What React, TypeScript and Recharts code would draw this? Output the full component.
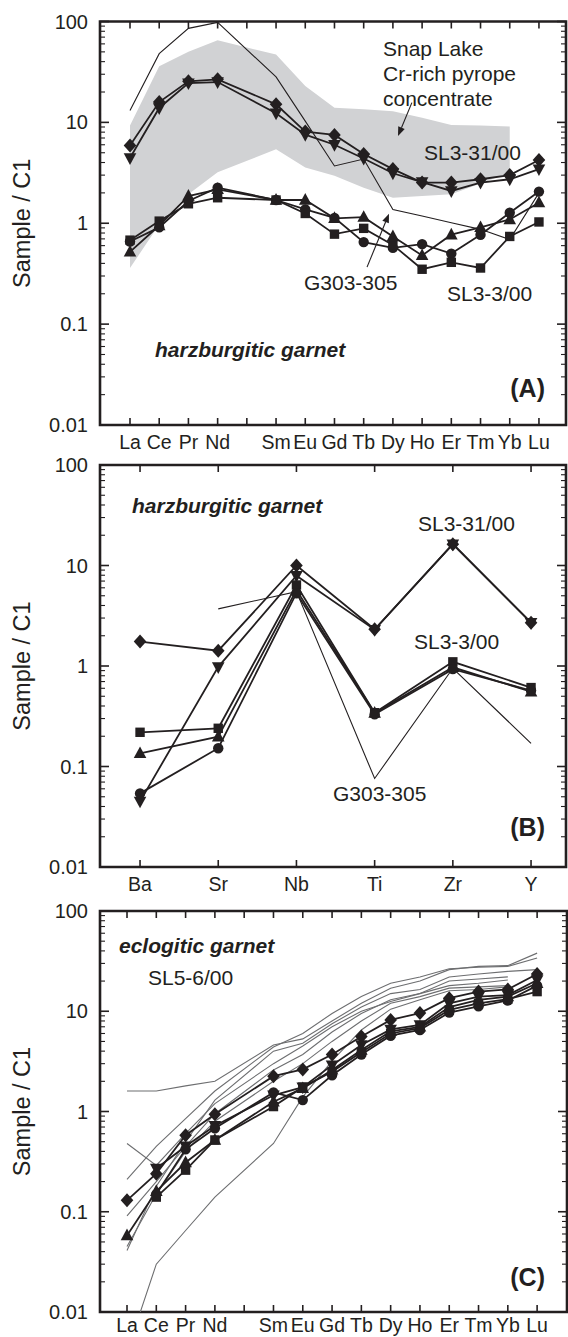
import React from 'react'
import {
  ComposedChart,
  Line,
  Area,
  XAxis,
  YAxis,
  ReferenceArea,
  ReferenceLine,
} from 'recharts'

const INK = '#231f20'
const GREY_LINE = '#6d6e70'
const BAND_FILL = '#d1d2d4'

// x categories
const REE = ['La', 'Ce', 'Pr', 'Nd', '', 'Sm', 'Eu', 'Gd', 'Tb', 'Dy', 'Ho', 'Er', 'Tm', 'Yb', 'Lu']
const TRACE = ['Ba', 'Sr', 'Nb', 'Ti', 'Zr', 'Y']

// y axis (log)
const DECADES = [0.01, 0.1, 1, 10, 100]
const DECADE_LABELS = ['0.01', '0.1', '1', '10', '100']

// (A) harzburgitic garnet, REE (Pm slot left empty)
const aDiamond = [5.9, 15.9, 25.5, 26.7, null, 15.1, 8.1, 7.5, 4.85, 3.44, 2.53, 2.53, 2.73, 3.0, 4.23]
const aInvTri = [4.43, 13.9, 24.5, 25.1, null, 12.3, 7.55, 6.0, 4.38, 3.13, 2.56, 2.09, 2.53, 2.73, 3.44]
const aCircle = [0.66, 0.91, 1.66, 2.25, null, 1.7, 1.37, 1.13, 0.65, 0.57, 0.62, 0.5, 0.77, 1.27, 2.06]
const aSquare = [0.68, 1.05, 1.56, 1.79, null, 1.7, 1.25, 0.78, 0.89, 0.61, 0.35, 0.41, 0.36, 0.74, 1.03]
const aTriangle = [0.52, 0.95, 1.86, 2.17, null, 1.7, 1.7, 1.12, 1.15, 0.74, 0.48, 0.77, 0.91, 1.09, 1.6]
const aG303 = [13.1, 48, 85.5, 98, null, 28.2, 10.3, 3.7, 4.33, 1.37, 1.18, 1.01, 0.87, 0.69, 2.0]
const aBandLow = [0.36, 0.97, 1.94, 3.2, null, 5.4, 3.57, 2.95, 2.25, 1.79, 1.86, 1.94, 2.48, 3.18, null]
const aBandHigh = [9.3, 36, 50, 65, null, 47, 23, 14, 13.5, 12.9, 11.1, 9.4, 9.3, 9.1, null]

// (B) harzburgitic garnet, trace elements
const bDiamond = [1.75, 1.42, 10, 2.32, 16.3, 2.7]
const bInvTri = [0.045, 0.98, 7.9, 2.3, 16.3, 2.7]
const bSquare = [0.219, 0.24, 6.4, 0.343, 1.1, 0.61]
const bTriangle = [0.135, 0.198, 5.7, 0.34, 0.97, 0.555]
const bCircle = [0.054, 0.152, 5.3, 0.33, 0.93, 0.57]
const bG303 = [null, 3.7, 5.5, 0.076, 0.95, 0.17]

// (C) eclogitic garnet, REE
const cDiamond = [0.13, 0.24, 0.58, 0.94, null, 2.25, 2.63, 3.7, 5.6, 8.2, 9.6, 13.5, 15.7, 16.5, 23.5]
const cInvTri = [null, 0.27, 0.45, 0.72, null, 1.45, 1.75, 2.9, 4.6, 6.6, 7.3, 12, 14, 14.5, 20.5]
const cCircle = [null, 0.15, 0.42, 0.68, null, 1.55, 1.3, 2.3, 3.7, 5.7, 6.5, 9.7, 11.2, 12.8, 18]
const cSquare = [null, 0.14, 0.26, 0.52, null, 1.12, 1.75, 2.5, 3.9, 6.0, 6.8, 10.3, 12, 13.2, 15.7]
const cTriangle = [0.058, 0.16, 0.31, 0.52, null, 1.25, 1.7, 2.6, 4.1, 6.3, 7.0, 11, 13, 14, 19]
const cGrey1 = [1.6, 1.6, 1.8, 2.0, null, 4.6, 5.3, 8.0, 12, 17, 20, 26, 28, 28.5, 38]
const cGrey2 = [0.21, 0.45, 0.85, 1.6, null, 4.4, 6.0, 9.5, 14, 19, 22, 26.5, 27.5, 28, 34]
const cGrey3 = [0.091, 0.2, 0.45, 0.95, null, 2.6, 3.7, 6.2, 9.5, 13, 15, 20, 21, 22, null]
const cGrey4 = [0.48, 0.29, 0.6, 1.2, null, 3.0, 4.5, 7.0, 10, 12.5, 15, 18, 19, 20.5, null]
const cGrey5 = [0.041, 0.18, 0.5, 1.3, null, 4.0, 4.8, 7.5, 11, 15, 16.5, 22, 23.5, 25, 26]
const cGrey6 = [0.045, 0.15, 0.4, 0.8, null, 2.0, 3.0, 5.0, 8.0, 12, 14, 17, 17.5, 18, null]
const cGrey7 = [0.004, 0.03, 0.065, 0.14, null, 0.48, 1.4, 3.2, 6.5, 10.5, 13, 16, 16.5, 17.5, null]

type Shape = 'diamond' | 'invtri' | 'circle' | 'square' | 'triangle'
type Val = number | null
type SeriesDef = { key: string; values: Val[]; shape?: Shape; kind: 'sample' | 'thin' | 'grey' }

const Y_TICKS: number[] = []
for (let e = -2; e < 2; e++) {
  for (let m = 1; m < 10; m++) Y_TICKS.push(+(m * Math.pow(10, e)).toPrecision(3))
}
Y_TICKS.push(100)

function Marker({ cx, cy, shape }: { cx?: number; cy?: number; shape: Shape }) {
  if (cx == null || cy == null || Number.isNaN(cx) || Number.isNaN(cy)) return null
  if (shape === 'circle') return <circle cx={cx} cy={cy} r={5.2} fill={INK} />
  if (shape === 'square') return <rect x={cx - 4.7} y={cy - 4.7} width={9.4} height={9.4} fill={INK} />
  if (shape === 'diamond')
    return <polygon points={`${cx},${cy - 7} ${cx + 6.3},${cy} ${cx},${cy + 7} ${cx - 6.3},${cy}`} fill={INK} />
  if (shape === 'triangle')
    return <polygon points={`${cx},${cy - 7} ${cx + 6.3},${cy + 4.7} ${cx - 6.3},${cy + 4.7}`} fill={INK} />
  return <polygon points={`${cx},${cy + 7} ${cx + 6.3},${cy - 4.7} ${cx - 6.3},${cy - 4.7}`} fill={INK} />
}

function YTick({ x, y, payload, plotW }: any) {
  const v = payload.value as number
  const idx = DECADES.findIndex((d) => Math.abs(d - v) / d < 1e-6)
  const major = idx >= 0
  const len = major ? 9 : 5
  return (
    <g>
      <line x1={x} x2={x + len} y1={y} y2={y} stroke={INK} strokeWidth={major ? 1.6 : 1.1} />
      <line x1={x + plotW - len} x2={x + plotW} y1={y} y2={y} stroke={INK} strokeWidth={major ? 1.6 : 1.1} />
      {major && (
        <text x={x - 12} y={y} textAnchor="end" dominantBaseline="central" fontSize={20} fill={INK}>
          {DECADE_LABELS[idx]}
        </text>
      )}
    </g>
  )
}

function XTick({ x, y, payload, labels, plotH, dy }: any) {
  const label = labels[payload.value - 1]
  return (
    <g>
      <line x1={x} x2={x} y1={y} y2={y - 7} stroke={INK} strokeWidth={1.6} />
      <line x1={x} x2={x} y1={y - plotH} y2={y - plotH + 7} stroke={INK} strokeWidth={1.6} />
      {label && (
        <text x={x} y={y + dy} textAnchor="middle" dominantBaseline="central" fontSize={19.5} fill={INK}>
          {label}
        </text>
      )}
    </g>
  )
}

function Arrow({ x1, y1, x2, y2 }: any) {
  const ang = Math.atan2(y2 - y1, x2 - x1)
  const L = 9
  const W = 3.5
  const bx = x2 - L * Math.cos(ang)
  const by = y2 - L * Math.sin(ang)
  const px = -Math.sin(ang) * W
  const py = Math.cos(ang) * W
  return (
    <g>
      <line x1={x1} y1={y1} x2={bx} y2={by} stroke={INK} strokeWidth={1.1} />
      <polygon points={`${x2},${y2} ${bx + px},${by + py} ${bx - px},${by - py}`} fill={INK} />
    </g>
  )
}

function YLabel({ viewBox }: any) {
  const cx = 22
  const cy = viewBox.y + viewBox.height / 2
  return (
    <text
      x={cx}
      y={cy}
      transform={`rotate(-90, ${cx}, ${cy})`}
      textAnchor="middle"
      dominantBaseline="central"
      fontSize={23.5}
      fill={INK}
    >
      Sample / C1
    </text>
  )
}

type PanelProps = {
  height: number
  marginTop: number
  marginRight: number
  xHeight: number
  labelDy: number
  domain: [number, number]
  cats: string[]
  series: SeriesDef[]
  bandLow?: Val[]
  bandHigh?: Val[]
  arrows?: { from: [number, number]; to: [number, number] }[]
}

function Panel({ height, marginTop, marginRight, xHeight, labelDy, domain, cats, series, bandLow, bandHigh, arrows }: PanelProps) {
  const width = 568
  const yWidth = 100
  const plotW = width - yWidth - marginRight
  const plotH = height - marginTop - xHeight

  const rows = cats.map((_, i) => {
    const r: Record<string, any> = { x: i + 1 }
    series.forEach((s) => {
      r[s.key] = s.values[i]
    })
    if (bandLow && bandHigh) {
      const lo = bandLow[i]
      const hi = bandHigh[i]
      r.band = lo != null && hi != null ? [lo, hi] : null
    }
    return r
  })

  const ordered = [
    ...series.filter((s) => s.kind === 'grey'),
    ...series.filter((s) => s.kind === 'thin'),
    ...series.filter((s) => s.kind === 'sample'),
  ]

  return (
    <ComposedChart
      width={width}
      height={height}
      data={rows}
      margin={{ top: marginTop, right: marginRight, bottom: 0, left: 0 }}
    >
      <XAxis
        type="number"
        dataKey="x"
        domain={domain}
        allowDataOverflow
        ticks={cats.map((_, i) => i + 1)}
        interval={0}
        height={xHeight}
        tickSize={0}
        tickMargin={0}
        axisLine={false}
        tickLine={false}
        tick={<XTick labels={cats} plotH={plotH} dy={labelDy} />}
      />
      <YAxis
        type="number"
        scale="log"
        domain={[0.01, 100]}
        allowDataOverflow
        ticks={Y_TICKS}
        interval={0}
        width={yWidth}
        tickSize={0}
        tickMargin={0}
        axisLine={false}
        tickLine={false}
        tick={<YTick plotW={plotW} />}
        label={{ content: <YLabel /> }}
      />
      {bandLow && (
        <Area
          dataKey="band"
          stroke="none"
          fill={BAND_FILL}
          fillOpacity={1}
          connectNulls
          isAnimationActive={false}
          dot={false}
          activeDot={false}
        />
      )}
      {ordered.map((s) => (
        <Line
          key={s.key}
          dataKey={s.key}
          stroke={s.kind === 'grey' ? GREY_LINE : INK}
          strokeWidth={s.kind === 'sample' ? 1.8 : 1.1}
          connectNulls
          isAnimationActive={false}
          activeDot={false}
          dot={
            s.shape
              ? (p: any) => <Marker key={`${s.key}-${p.index}`} cx={p.cx} cy={p.cy} shape={s.shape as Shape} />
              : false
          }
        />
      ))}
      {(arrows || []).map((a, i) => (
        <ReferenceLine
          key={`arrow-${i}`}
          segment={[
            { x: a.from[0], y: a.from[1] },
            { x: a.to[0], y: a.to[1] },
          ]}
          ifOverflow="visible"
          shape={(p: any) => <Arrow {...p} />}
        />
      ))}
      <ReferenceArea
        x1={domain[0]}
        x2={domain[1]}
        y1={0.01}
        y2={100}
        fill="none"
        fillOpacity={0}
        stroke={INK}
        strokeWidth={2.6}
        ifOverflow="visible"
      />
    </ComposedChart>
  )
}

const seriesA: SeriesDef[] = [
  { key: 'dia', values: aDiamond, shape: 'diamond', kind: 'sample' },
  { key: 'inv', values: aInvTri, shape: 'invtri', kind: 'sample' },
  { key: 'cir', values: aCircle, shape: 'circle', kind: 'sample' },
  { key: 'sq', values: aSquare, shape: 'square', kind: 'sample' },
  { key: 'tri', values: aTriangle, shape: 'triangle', kind: 'sample' },
  { key: 'g303', values: aG303, kind: 'thin' },
]

const seriesB: SeriesDef[] = [
  { key: 'dia', values: bDiamond, shape: 'diamond', kind: 'sample' },
  { key: 'inv', values: bInvTri, shape: 'invtri', kind: 'sample' },
  { key: 'sq', values: bSquare, shape: 'square', kind: 'sample' },
  { key: 'tri', values: bTriangle, shape: 'triangle', kind: 'sample' },
  { key: 'cir', values: bCircle, shape: 'circle', kind: 'sample' },
  { key: 'g303', values: bG303, kind: 'thin' },
]

const seriesC: SeriesDef[] = [
  { key: 'g1', values: cGrey1, kind: 'grey' },
  { key: 'g2', values: cGrey2, kind: 'grey' },
  { key: 'g3', values: cGrey3, kind: 'grey' },
  { key: 'g4', values: cGrey4, kind: 'grey' },
  { key: 'g5', values: cGrey5, kind: 'grey' },
  { key: 'g6', values: cGrey6, kind: 'grey' },
  { key: 'g7', values: cGrey7, kind: 'grey' },
  { key: 'dia', values: cDiamond, shape: 'diamond', kind: 'sample' },
  { key: 'inv', values: cInvTri, shape: 'invtri', kind: 'sample' },
  { key: 'cir', values: cCircle, shape: 'circle', kind: 'sample' },
  { key: 'sq', values: cSquare, shape: 'square', kind: 'sample' },
  { key: 'tri', values: cTriangle, shape: 'triangle', kind: 'sample' },
]

type Note = { text: string; left?: number; right?: number; cy: number; size: number; bold?: boolean; italic?: boolean }

const notes: Note[] = [
  { text: 'Snap Lake', left: 383, cy: 48, size: 21 },
  { text: 'Cr-rich pyrope', left: 383, cy: 73, size: 21 },
  { text: 'concentrate', left: 383, cy: 98, size: 21 },
  { text: 'SL3-31/00', left: 424, cy: 152, size: 21 },
  { text: 'G303-305', left: 304, cy: 282, size: 21 },
  { text: 'SL3-3/00', left: 447, cy: 293, size: 21 },
  { text: 'harzburgitic garnet', left: 155, cy: 349, size: 21, bold: true, italic: true },
  { text: '(A)', right: 23, cy: 388, size: 25, bold: true },
  { text: 'harzburgitic garnet', left: 132, cy: 505, size: 21, bold: true, italic: true },
  { text: 'SL3-31/00', left: 418, cy: 523, size: 21 },
  { text: 'SL3-3/00', left: 414, cy: 641, size: 21 },
  { text: 'G303-305', left: 333, cy: 793, size: 21 },
  { text: '(B)', right: 23, cy: 827, size: 25, bold: true },
  { text: 'eclogitic garnet', left: 119, cy: 945, size: 21, bold: true, italic: true },
  { text: 'SL5-6/00', left: 148, cy: 977, size: 21 },
  { text: '(C)', right: 23, cy: 1277, size: 25, bold: true },
]

export default function App() {
  return (
    <div
      style={{
        position: 'absolute',
        top: 0,
        left: 0,
        width: 568,
        height: 1337,
        background: '#fff',
        fontFamily: '"Liberation Sans", Arial, sans-serif',
        color: INK,
        overflow: 'hidden',
      }}
    >
      <div style={{ position: 'absolute', top: 0, left: 0 }}>
        <Panel
          height={455}
          marginTop={21.5}
          marginRight={2}
          xHeight={30}
          labelDy={17}
          domain={[-0.027, 15.926]}
          cats={REE}
          series={seriesA}
          bandLow={aBandLow}
          bandHigh={aBandHigh}
          arrows={[
            { from: [10.65, 15.7], to: [10.175, 7.33] },
            { from: [9.114, 0.367], to: [9.867, 1.245] },
          ]}
        />
      </div>
      <div style={{ position: 'absolute', top: 455, left: 0 }}>
        <Panel
          height={440}
          marginTop={10}
          marginRight={2}
          xHeight={28}
          labelDy={17}
          domain={[0.488, 6.447]}
          cats={TRACE}
          series={seriesB}
        />
      </div>
      <div style={{ position: 'absolute', top: 895, left: 0 }}>
        <Panel
          height={442}
          marginTop={16}
          marginRight={1}
          xHeight={25}
          labelDy={13}
          domain={[0.078, 16.02]}
          cats={REE}
          series={seriesC}
        />
      </div>
      {notes.map((n, i) => (
        <div
          key={i}
          style={{
            position: 'absolute',
            left: n.left,
            right: n.right,
            top: n.cy,
            transform: 'translateY(-50%)',
            fontSize: n.size,
            lineHeight: 1,
            whiteSpace: 'nowrap',
            fontWeight: n.bold ? 700 : 400,
            fontStyle: n.italic ? 'italic' : 'normal',
          }}
        >
          {n.text}
        </div>
      ))}
    </div>
  )
}
